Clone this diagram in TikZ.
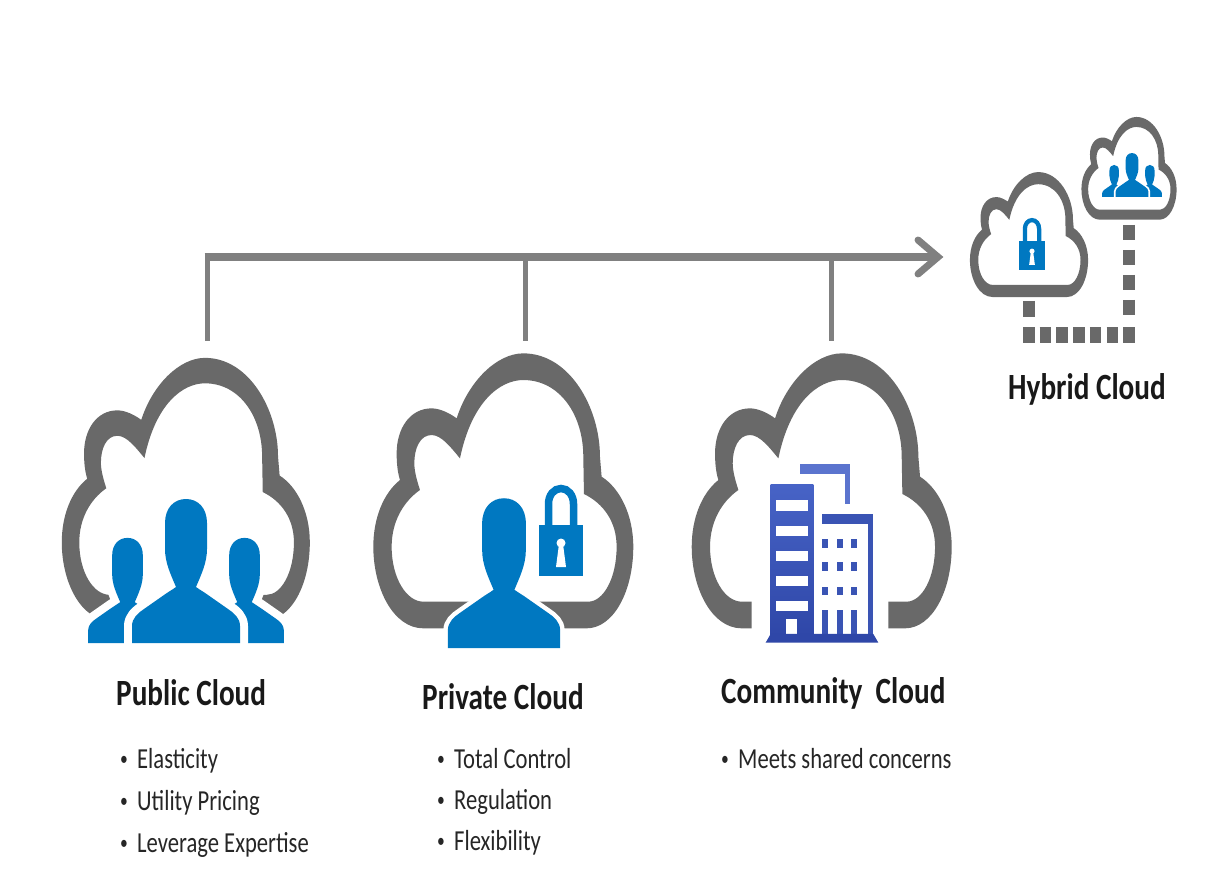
\documentclass[tikz,border=0pt]{standalone}
\usepackage{fontspec}
\setmainfont{Carlito}
\newfontfamily\headfont[FakeStretch=0.79]{Carlito Bold}
\newfontfamily\listfont[FakeStretch=0.78]{Carlito}
\usetikzlibrary{calc}
\definecolor{cloudgray}{HTML}{696969}
\definecolor{linegray}{HTML}{808080}
\definecolor{iconblue}{HTML}{0078C1}
\definecolor{towerblue}{HTML}{3A54B4}
\definecolor{towertop}{HTML}{4763C6}
\definecolor{towerlow}{HTML}{2F47A8}
\definecolor{roofblue}{HTML}{5B74CE}
\tikzset{
  cloudfill/.style={fill=cloudgray},
  linkline/.style={draw=linegray,line width=5pt},
  squares/.style={draw=cloudgray,line width=12pt},
  headtext/.style={anchor=base west,inner sep=0pt,font=\headfont\fontsize{37}{37}\selectfont,text=black!90},
  listtext/.style={anchor=base west,inner sep=0pt,font=\listfont\fontsize{29}{29}\selectfont,text=black!85},
}
% ring of a cloud, in units of 1/3 px at full size, open at the bottom between #1 and #2
\newcommand\cloudring[2]{(#1,40) -- (-240,40)
  .. controls (-330,40) and (-390,-80) .. (-390,-205)
  .. controls (-390,-290) and (-360,-365) .. (-310,-405)
  .. controls (-318,-430) and (-320,-460) .. (-320,-485)
  .. controls (-320,-560) and (-280,-620) .. (-215,-620)
  .. controls (-190,-620) and (-160,-605) .. (-140,-590)
  .. controls (-105,-700) and (-20,-785) .. (60,-785)
  .. controls (200,-785) and (290,-620) .. (290,-475)
  -- (295,-415)
  .. controls (350,-380) and (390,-300) .. (390,-205)
  .. controls (390,-70) and (330,40) .. (250,40)
  -- (#2,40) -- (#2,-40) -- (255,-40)
  .. controls (300,-40) and (340,-110) .. (340,-205)
  .. controls (340,-280) and (300,-335) .. (242,-363)
  -- (240,-475)
  .. controls (240,-600) and (170,-705) .. (60,-705)
  .. controls (-10,-705) and (-95,-640) .. (-130,-470)
  .. controls (-155,-500) and (-185,-540) .. (-215,-540)
  .. controls (-250,-540) and (-267,-500) .. (-267,-455)
  .. controls (-267,-430) and (-258,-400) .. (-250,-375)
  .. controls (-300,-340) and (-335,-280) .. (-335,-205)
  .. controls (-335,-110) and (-290,-40) .. (-240,-40)
  -- (#1,-40) -- cycle}
\newcommand\personpath{(-54,0) -- (-54,-17) .. controls (-54,-25) and (-48,-30) .. (-42,-34)
  -- (-22,-48) .. controls (-18,-51) and (-14,-53) .. (-10,-56)
  .. controls (-15,-68) and (-21,-80) .. (-21,-94)
  -- (-21,-120)
  .. controls (-21,-135) and (-12,-144) .. (0,-144)
  .. controls (12,-144) and (21,-135) .. (21,-120)
  -- (21,-94)
  .. controls (21,-80) and (15,-68) .. (10,-56)
  .. controls (14,-53) and (18,-51) .. (22,-48)
  -- (42,-34) .. controls (48,-30) and (54,-25) .. (54,-17)
  -- (54,0) -- cycle}
\newcommand\persontwo[4]{\begin{scope}[shift={(#1,#2)},scale=#3]
  \path[fill=iconblue,draw=white,line width=#4pt,line join=round] \personpath;
  \fill[iconblue] \personpath;
\end{scope}}
\newcommand\peoplegroup[4]{\begin{scope}[shift={(#1,#2)},scale=#3]
  \persontwo{-58.5}{0}{0.73}{#4}
  \persontwo{58.5}{0}{0.73}{#4}
  \persontwo{0}{0}{1}{#4}
\end{scope}}
\newcommand\lockicon[3]{\begin{scope}[shift={(#1,#2)},scale=#3]
  \draw[iconblue,line width=#3*7.5pt] (-12.5,-48) -- (-12.5,-72) .. controls (-12.5,-81) and (-7,-87.5) .. (0,-87.5)
     .. controls (7,-87.5) and (12.5,-81) .. (12.5,-72) -- (12.5,-48);
  \fill[iconblue] (-22,0) rectangle (22,-51);
  \fill[white] (0,-33) circle (4.5);
  \fill[white] (-2,-32) -- (2,-32) -- (5,-9) -- (-5,-9) -- cycle;
\end{scope}}
\begin{document}
\begin{tikzpicture}[x=1pt,y=-1pt]
\useasboundingbox (0,0) rectangle (1220,882);
\fill[white] (0,0) rectangle (1220,882);

% connector
\coordinate (riserA) at (207,341);
\coordinate (riserB) at (525,341);
\coordinate (riserC) at (831,341);
\coordinate (arrowtip) at (938,257);
\draw[linkline] (riserB) -- (riserB |- arrowtip);
\draw[linkline] (riserC) -- (riserC |- arrowtip);
\draw[linkline] (riserA) -- (riserA |- arrowtip);
\draw[draw=linegray,line width=7.5pt] ($(riserA |- arrowtip)+(-2.5,0)$) -- ($(arrowtip)+(-3,0)$);
\draw[draw=linegray,line width=7pt,line cap=round,line join=miter]
  ($(arrowtip)+(-20,-17)$) -- (arrowtip) -- ($(arrowtip)+(-20,17)$);

% public
\begin{scope}[shift={(185.8,607.5)},scale=0.318]
  \fill[cloudfill] \cloudring{-170}{170};
\end{scope}
\peoplegroup{186}{643}{1}{16}

% private
\begin{scope}[shift={(503.3,615)},scale=0.3333]
  \fill[cloudfill] \cloudring{-100}{100};
\end{scope}
\persontwo{504}{648}{1.04}{9}
\lockicon{561}{576}{1}

% community
\begin{scope}[shift={(821.7,615)},scale=0.3333]
  \fill[cloudfill] \cloudring{-210}{200};
\end{scope}
\begin{scope}[shift={(680,340)},x=0.3333pt,y=-0.3333pt]
  \fill[roofblue] (360,373) rectangle (511,402);
  \fill[roofblue] (495,373) rectangle (511,492);
  \fill[top color=towertop,bottom color=towerlow] (272,435) rectangle (400,888);
  \fill[white] (288,480) rectangle (383,513);
  \fill[white] (288,557) rectangle (383,587);
  \fill[white] (288,632) rectangle (383,662);
  \fill[white] (288,707) rectangle (383,737);
  \fill[white] (288,782) rectangle (383,812);
  \fill[white] (318,838) rectangle (352,885);
  \fill[towerblue] (425,523) rectangle (578,552);
  \fill[towerblue] (563,552) rectangle (578,888);
  \foreach \xx in {426,471,513} {
    \foreach \yy in {597,667,740} {
      \fill[towerblue] (\xx,\yy) rectangle ++(19,26);
    }
    \fill[towerblue] (\xx,810) rectangle ++(17,75);
  }
  \fill[towerlow] (272,882) -- (580,882) -- (595,908) -- (257,908) -- cycle;
\end{scope}

% hybrid
\begin{scope}[shift={(1029,291)},scale=0.1515]
  \fill[cloudfill] \cloudring{0}{0};
\end{scope}
\lockicon{1032}{270}{0.57}
\begin{scope}[shift={(1129,214.7)},xscale=0.122,yscale=0.1245]
  \fill[cloudfill] \cloudring{0}{0};
\end{scope}
\peoplegroup{1132}{197}{0.305}{3.5}

\coordinate (lockdrop) at (1029,301);
\coordinate (lockjoin) at (1029,317);
\coordinate (rowstart) at (1023,335);
\coordinate (rowend) at (1135.5,335);
\coordinate (peopledrop) at (1129,225);
\coordinate (peoplejoin) at (1129,317);
\draw[squares] (lockdrop) -- (lockjoin);
\draw[draw=cloudgray,line width=16.5pt,dash pattern=on 11.5pt off 5.2pt] (rowstart) -- (rowend);
\draw[squares,dash pattern=on 15.5pt off 9.5pt] (peopledrop) -- (peoplejoin);

% labels
\node[headtext] (publicT) at (116,705) {Public Cloud};
\node[headtext] (privateT) at (422,709) {Private Cloud};
\node[headtext] (communityT) at (721,703) {Community\ \ Cloud};
\node[headtext] (hybridT) at (1008,399) {Hybrid Cloud};

\newcommand\bul{\makebox[17pt][l]{\raisebox{3pt}{\fontsize{20}{20}\selectfont •}}}
\node[listtext] (pubA) at (120,768) {\bul Elasticity};
\node[listtext] (pubB) at (120,810) {\bul Utility Pricing};
\node[listtext] (pubC) at (120,852) {\bul Leverage Expertise};
\node[listtext] (privA) at (437,768) {\bul Total Control};
\node[listtext] (privB) at (437,809) {\bul Regulation};
\node[listtext] (privC) at (437,850) {\bul Flexibility};
\node[listtext] (comA) at (721,768) {\bul Meets shared concerns};
\end{tikzpicture}
\end{document}
